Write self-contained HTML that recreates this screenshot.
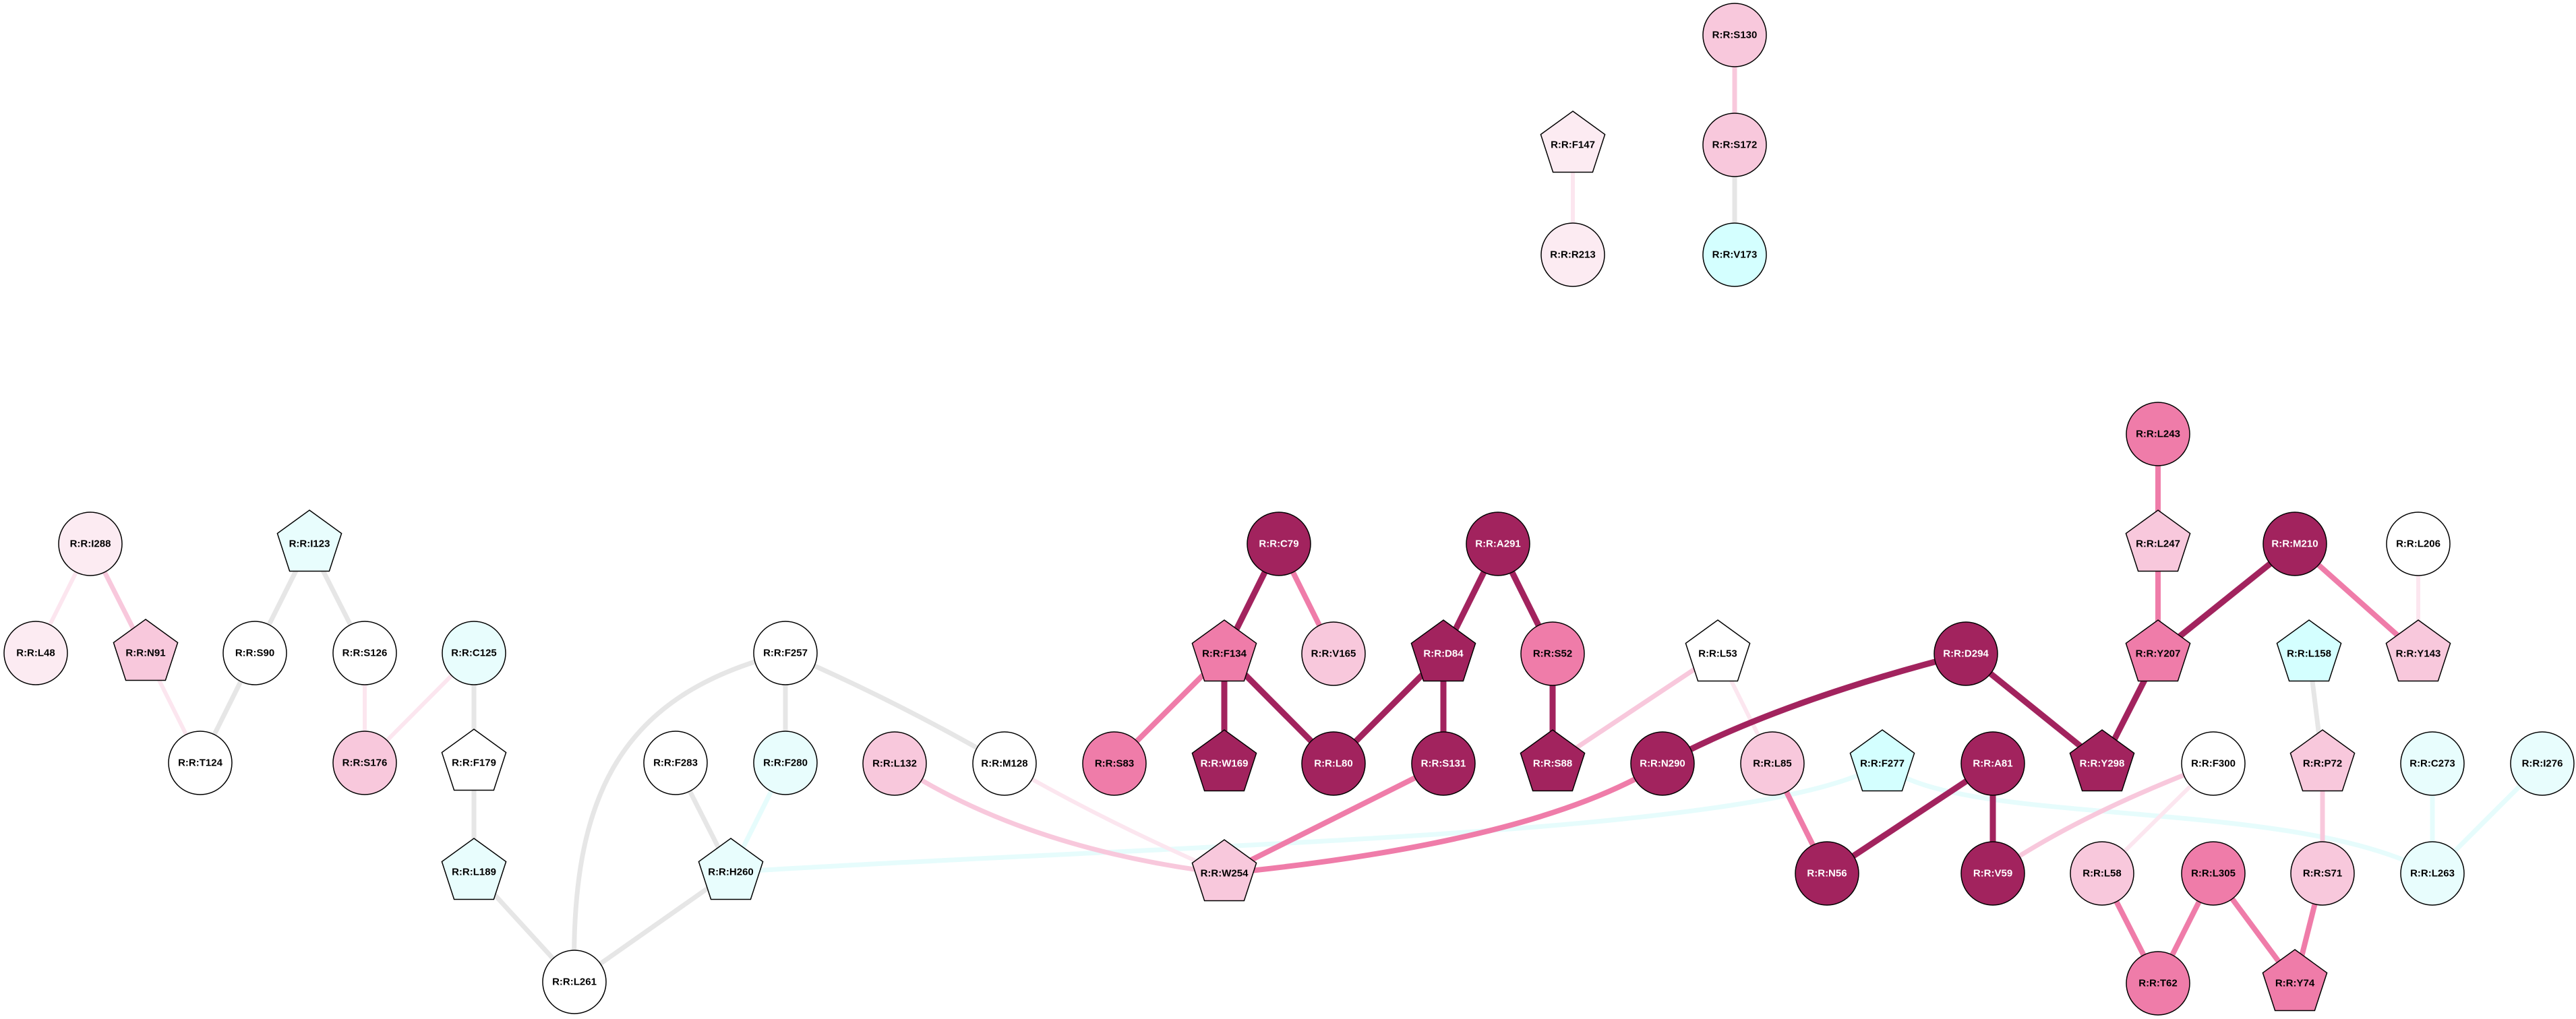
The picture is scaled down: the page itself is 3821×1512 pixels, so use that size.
<!DOCTYPE html>
<html><head><meta charset="utf-8"><style>
html,body{margin:0;padding:0;background:#fff}
svg{display:block}
text{font-family:"Liberation Sans",Arial,sans-serif;font-weight:bold;font-size:15px;text-anchor:middle;dominant-baseline:central}
</style></head><body>
<svg width="3821" height="1512" viewBox="0 0 3821 1512" xmlns="http://www.w3.org/2000/svg">
<defs>
<polygon id="p" points="0,-50 47.6,-15.5 29.4,40.5 -29.4,40.5 -47.6,-15.5" stroke="#000" stroke-width="1.5"/>
<circle id="c" r="47" stroke="#000" stroke-width="1.5"/>
</defs>
<g fill="none" stroke-linecap="butt">
<g stroke="#e6e6e6" stroke-width="7">
<line x1="459" y1="807" x2="378" y2="969"/>
<line x1="459" y1="807" x2="541" y2="969"/>
<line x1="378" y1="969" x2="297" y2="1132"/>
<line x1="703" y1="969" x2="703" y2="1132"/>
<line x1="703" y1="1132" x2="703" y2="1294"/>
<line x1="703" y1="1294" x2="852" y2="1457"/>
<line x1="1084" y1="1294" x2="852" y2="1457"/>
<path d="M1165,969 C920,1030 845,1180 852,1457"/>
<line x1="1165" y1="969" x2="1165" y2="1132"/>
<path d="M1165,969 Q1330,1040 1490,1133"/>
<line x1="1002" y1="1132" x2="1084" y2="1294"/>
<line x1="3425" y1="970" x2="3445" y2="1133"/>
<line x1="2573" y1="215" x2="2573" y2="378"/>
</g>
<g stroke="#e6fcfc" stroke-width="7">
<line x1="1165" y1="1132" x2="1084" y2="1294"/>
<path d="M1084,1294 C1800,1250 2620,1240 2792,1133"/>
<path d="M2792,1133 C2900,1230 3400,1180 3608,1296"/>
<line x1="3608" y1="1133" x2="3608" y2="1296"/>
<line x1="3771" y1="1133" x2="3608" y2="1296"/>
</g>
<g stroke="#fce6ef" stroke-width="6">
<line x1="134" y1="807" x2="53" y2="969"/>
<line x1="216" y1="969" x2="297" y2="1132"/>
<line x1="541" y1="969" x2="541" y2="1132"/>
<line x1="703" y1="969" x2="541" y2="1132"/>
<path d="M1490,1133 Q1640,1220 1816,1296"/>
<line x1="2548" y1="970" x2="2629" y2="1133"/>
<line x1="3283" y1="1133" x2="3118" y2="1296"/>
<line x1="3587" y1="807" x2="3587" y2="970"/>
<line x1="2333" y1="215" x2="2333" y2="378"/>
</g>
<g stroke="#f8c8dc" stroke-width="7">
<line x1="134" y1="807" x2="216" y2="969"/>
<path d="M1327,1133 Q1520,1260 1816,1296"/>
<line x1="2548" y1="970" x2="2303" y2="1133"/>
<path d="M3283,1133 Q3080,1210 2956,1296"/>
<line x1="3445" y1="1133" x2="3445" y2="1296"/>
<line x1="2573" y1="52" x2="2573" y2="215"/>
</g>
<g stroke="#ef7ca9" stroke-width="8">
<line x1="1897" y1="807" x2="1978" y2="970"/>
<line x1="1816" y1="970" x2="1653" y2="1133"/>
<line x1="2141" y1="1133" x2="1816" y2="1296"/>
<path d="M2466,1133 Q2280,1250 1816,1296"/>
<line x1="2629" y1="1133" x2="2710" y2="1296"/>
<line x1="3118" y1="1296" x2="3201" y2="1459"/>
<line x1="3283" y1="1296" x2="3201" y2="1459"/>
<line x1="3283" y1="1296" x2="3404" y2="1459"/>
<line x1="3445" y1="1296" x2="3404" y2="1459"/>
<line x1="3201" y1="644" x2="3201" y2="807"/>
<line x1="3201" y1="807" x2="3201" y2="970"/>
<line x1="3404" y1="807" x2="3587" y2="970"/>
</g>
<g stroke="#a2235e" stroke-width="9">
<line x1="1897" y1="807" x2="1816" y2="970"/>
<line x1="1816" y1="970" x2="1816" y2="1133"/>
<line x1="1816" y1="970" x2="1978" y2="1133"/>
<line x1="2141" y1="970" x2="1978" y2="1133"/>
<line x1="2222" y1="807" x2="2141" y2="970"/>
<line x1="2222" y1="807" x2="2303" y2="970"/>
<line x1="2141" y1="970" x2="2141" y2="1133"/>
<line x1="2303" y1="970" x2="2303" y2="1133"/>
<path d="M2916,970 Q2640,1040 2466,1133"/>
<line x1="2916" y1="970" x2="3118" y2="1133"/>
<line x1="2956" y1="1133" x2="2710" y2="1296"/>
<line x1="2956" y1="1133" x2="2956" y2="1296"/>
<line x1="3404" y1="807" x2="3201" y2="970"/>
<line x1="3201" y1="970" x2="3118" y2="1133"/>
</g>
</g>
<g>
<use href="#c" x="134" y="807" fill="#fcebf2"/><text x="134" y="807">R:R:I288</text>
<use href="#c" x="53" y="969" fill="#fcebf2"/><text x="53" y="969">R:R:L48</text>
<use href="#p" x="216" y="969" fill="#f8c8dc"/><text x="216" y="969">R:R:N91</text>
<use href="#p" x="459" y="807" fill="#e8fdfd"/><text x="459" y="807">R:R:I123</text>
<use href="#c" x="378" y="969" fill="#fff"/><text x="378" y="969">R:R:S90</text>
<use href="#c" x="541" y="969" fill="#fff"/><text x="541" y="969">R:R:S126</text>
<use href="#c" x="703" y="969" fill="#e8fdfd"/><text x="703" y="969">R:R:C125</text>
<use href="#c" x="297" y="1132" fill="#fff"/><text x="297" y="1132">R:R:T124</text>
<use href="#c" x="541" y="1132" fill="#f8c8dc"/><text x="541" y="1132">R:R:S176</text>
<use href="#p" x="703" y="1132" fill="#fff"/><text x="703" y="1132">R:R:F179</text>
<use href="#p" x="703" y="1294" fill="#e8fdfd"/><text x="703" y="1294">R:R:L189</text>
<use href="#c" x="1165" y="969" fill="#fff"/><text x="1165" y="969">R:R:F257</text>
<use href="#c" x="1002" y="1132" fill="#fff"/><text x="1002" y="1132">R:R:F283</text>
<use href="#c" x="1165" y="1132" fill="#e8fdfd"/><text x="1165" y="1132">R:R:F280</text>
<use href="#p" x="1084" y="1294" fill="#e8fdfd"/><text x="1084" y="1294">R:R:H260</text>
<use href="#c" x="852" y="1457" fill="#fff"/><text x="852" y="1457">R:R:L261</text>
<use href="#c" x="1327" y="1133" fill="#f8c8dc"/><text x="1327" y="1133">R:R:L132</text>
<use href="#c" x="1490" y="1133" fill="#fff"/><text x="1490" y="1133">R:R:M128</text>
<use href="#c" x="1653" y="1133" fill="#ef7ca9"/><text x="1653" y="1133">R:R:S83</text>
<use href="#p" x="1816" y="1133" fill="#a2235e"/><text x="1816" y="1133" fill="#fff">R:R:W169</text>
<use href="#c" x="1978" y="1133" fill="#a2235e"/><text x="1978" y="1133" fill="#fff">R:R:L80</text>
<use href="#c" x="2141" y="1133" fill="#a2235e"/><text x="2141" y="1133" fill="#fff">R:R:S131</text>
<use href="#p" x="2303" y="1133" fill="#a2235e"/><text x="2303" y="1133" fill="#fff">R:R:S88</text>
<use href="#c" x="2466" y="1133" fill="#a2235e"/><text x="2466" y="1133" fill="#fff">R:R:N290</text>
<use href="#c" x="1897" y="807" fill="#a2235e"/><text x="1897" y="807" fill="#fff">R:R:C79</text>
<use href="#c" x="2222" y="807" fill="#a2235e"/><text x="2222" y="807" fill="#fff">R:R:A291</text>
<use href="#p" x="1816" y="970" fill="#ef7ca9"/><text x="1816" y="970">R:R:F134</text>
<use href="#c" x="1978" y="970" fill="#f8c8dc"/><text x="1978" y="970">R:R:V165</text>
<use href="#p" x="2141" y="970" fill="#a2235e"/><text x="2141" y="970" fill="#fff">R:R:D84</text>
<use href="#c" x="2303" y="970" fill="#ef7ca9"/><text x="2303" y="970">R:R:S52</text>
<use href="#p" x="1816" y="1296" fill="#f8c8dc"/><text x="1816" y="1296">R:R:W254</text>
<use href="#p" x="2548" y="970" fill="#fff"/><text x="2548" y="970">R:R:L53</text>
<use href="#c" x="2916" y="970" fill="#a2235e"/><text x="2916" y="970" fill="#fff">R:R:D294</text>
<use href="#p" x="3201" y="970" fill="#ef7ca9"/><text x="3201" y="970">R:R:Y207</text>
<use href="#p" x="3425" y="970" fill="#d4ffff"/><text x="3425" y="970">R:R:L158</text>
<use href="#p" x="3587" y="970" fill="#f8c8dc"/><text x="3587" y="970">R:R:Y143</text>
<use href="#c" x="3201" y="644" fill="#ef7ca9"/><text x="3201" y="644">R:R:L243</text>
<use href="#p" x="3201" y="807" fill="#f8c8dc"/><text x="3201" y="807">R:R:L247</text>
<use href="#c" x="3404" y="807" fill="#a2235e"/><text x="3404" y="807" fill="#fff">R:R:M210</text>
<use href="#c" x="3587" y="807" fill="#fff"/><text x="3587" y="807">R:R:L206</text>
<use href="#c" x="2629" y="1133" fill="#f8c8dc"/><text x="2629" y="1133">R:R:L85</text>
<use href="#p" x="2792" y="1133" fill="#d4ffff"/><text x="2792" y="1133">R:R:F277</text>
<use href="#c" x="2956" y="1133" fill="#a2235e"/><text x="2956" y="1133" fill="#fff">R:R:A81</text>
<use href="#p" x="3118" y="1133" fill="#a2235e"/><text x="3118" y="1133" fill="#fff">R:R:Y298</text>
<use href="#c" x="3283" y="1133" fill="#fff"/><text x="3283" y="1133">R:R:F300</text>
<use href="#p" x="3445" y="1133" fill="#f8c8dc"/><text x="3445" y="1133">R:R:P72</text>
<use href="#c" x="3608" y="1133" fill="#e8fdfd"/><text x="3608" y="1133">R:R:C273</text>
<use href="#c" x="3771" y="1133" fill="#e8fdfd"/><text x="3771" y="1133">R:R:I276</text>
<use href="#c" x="2710" y="1296" fill="#a2235e"/><text x="2710" y="1296" fill="#fff">R:R:N56</text>
<use href="#c" x="2956" y="1296" fill="#a2235e"/><text x="2956" y="1296" fill="#fff">R:R:V59</text>
<use href="#c" x="3118" y="1296" fill="#f8c8dc"/><text x="3118" y="1296">R:R:L58</text>
<use href="#c" x="3283" y="1296" fill="#ef7ca9"/><text x="3283" y="1296">R:R:L305</text>
<use href="#c" x="3445" y="1296" fill="#f8c8dc"/><text x="3445" y="1296">R:R:S71</text>
<use href="#c" x="3608" y="1296" fill="#e8fdfd"/><text x="3608" y="1296">R:R:L263</text>
<use href="#c" x="3201" y="1459" fill="#ef7ca9"/><text x="3201" y="1459">R:R:T62</text>
<use href="#p" x="3404" y="1459" fill="#ef7ca9"/><text x="3404" y="1459">R:R:Y74</text>
<use href="#p" x="2333" y="215" fill="#fcebf2"/><text x="2333" y="215">R:R:F147</text>
<use href="#c" x="2333" y="378" fill="#fcebf2"/><text x="2333" y="378">R:R:R213</text>
<use href="#c" x="2573" y="52" fill="#f8c8dc"/><text x="2573" y="52">R:R:S130</text>
<use href="#c" x="2573" y="215" fill="#f8c8dc"/><text x="2573" y="215">R:R:S172</text>
<use href="#c" x="2573" y="378" fill="#d4ffff"/><text x="2573" y="378">R:R:V173</text>
</g>
</svg>
</body></html>
